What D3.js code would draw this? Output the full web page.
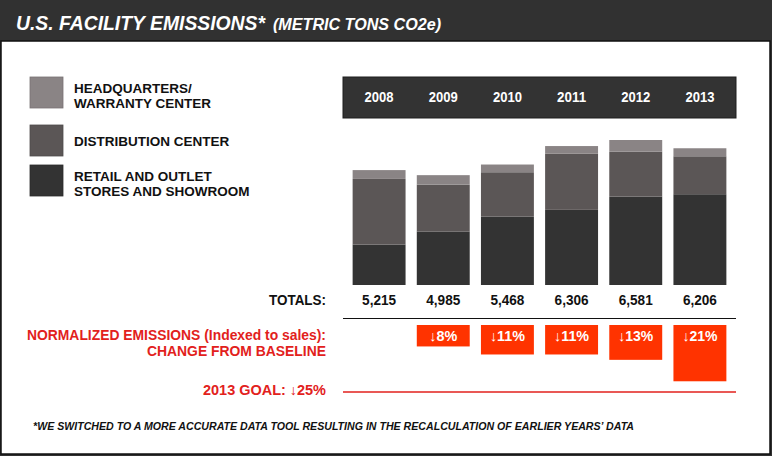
<!DOCTYPE html>
<html>
<head>
<meta charset="utf-8">
<script src="https://cdn.jsdelivr.net/npm/d3@7"></script>
<style>
  body { margin: 0; background: #fff; }
  svg { display: block; }
</style>
</head>
<body>
<svg id="chart"></svg>
<script>
// values (metric tons CO2e)
const years = ["2008", "2009", "2010", "2011", "2012", "2013"]
const retail = [1835, 2430, 3100, 3410, 4010, 4120]
const distribution = [2980, 2125, 2018, 2546, 2040, 1722]
const headquarters = [400, 430, 350, 350, 531, 364]
const totals = [5215, 4985, 5468, 6306, 6581, 6206]
// normalized emissions, % down from baseline (2008 has none)
const normalizedChange = [null, 8, 11, 11, 13, 21]
const goalChange = 25

const seriesKeys = ["retail", "distribution", "headquarters"]
const legendLabels = {
    headquarters: ["HEADQUARTERS/", "WARRANTY CENTER"],
    distribution: ["DISTRIBUTION CENTER"],
    retail: ["RETAIL AND OUTLET", "STORES AND SHOWROOM"]
}

const W = 772, H = 456
const colors = { retail: "#333333", distribution: "#5b5656", headquarters: "#8a8485" }
const red = "#e2211c"
const boxRed = "#ff3300"
const sans = "'Liberation Sans', Arial, sans-serif"

const svg = d3.select("#chart").attr("width", W).attr("height", H)

// background: dark title band + bordered white panel
svg.append("rect").attr("width", W).attr("height", H).attr("fill", "#313131")
svg.append("rect")
    .attr("x", 1).attr("y", 41).attr("width", W - 3).attr("height", H - 43)
    .attr("fill", "#fff").attr("stroke", "#111").attr("stroke-width", 1.5)

// title
svg.append("text")
    .attr("x", 16).attr("y", 30)
    .attr("textLength", 249).attr("lengthAdjust", "spacingAndGlyphs")
    .style("font-family", sans).style("font-weight", "bold").style("font-style", "italic")
    .style("font-size", "19.5px").attr("fill", "#fff")
    .text("U.S. FACILITY EMISSIONS*")
svg.append("text")
    .attr("x", 273).attr("y", 30)
    .attr("textLength", 168).attr("lengthAdjust", "spacingAndGlyphs")
    .style("font-family", sans).style("font-weight", "bold").style("font-style", "italic")
    .style("font-size", "16px").attr("fill", "#fff")
    .text("(METRIC TONS CO2e)")

// legend
const legendRows = [
    { key: "headquarters", y: 77 },
    { key: "distribution", y: 125 },
    { key: "retail", y: 165 }
]
const legend = svg.append("g")
legendRows.forEach(row => {
    legend.append("rect")
        .attr("x", 30).attr("y", row.y).attr("width", 33).attr("height", 31)
        .attr("fill", colors[row.key]).attr("stroke", d3.color(colors[row.key]).darker(0.4)).attr("stroke-width", 0.8)
    const lines = legendLabels[row.key]
    const firstBase = lines.length === 1 ? row.y + 21 : row.y + 16
    lines.forEach((line, i) => {
        legend.append("text")
            .attr("x", 74).attr("y", firstBase + i * 15)
            .style("font-family", sans).style("font-weight", "bold").style("font-size", "13.5px")
            .attr("fill", "#111")
            .text(line)
    })
})

// scales
const x = d3.scaleBand()
    .domain(years)
    .range([343, 736])
    .paddingInner(0.175)
    .paddingOuter(0.15)

const y = d3.scaleLinear()
    .domain([0, 6581])
    .range([285, 140])

const yChange = d3.scaleLinear()
    .domain([0, goalChange])
    .range([325, 392])

// year header band
svg.append("rect")
    .attr("x", x.range()[0]).attr("y", 77).attr("width", x.range()[1] - x.range()[0]).attr("height", 41)
    .attr("fill", "#333").attr("stroke", "#1e1e1e").attr("stroke-width", 1)
svg.append("g").selectAll("text")
    .data(years)
    .enter()
    .append("text")
    .attr("x", d => x(d) + x.bandwidth() / 2)
    .attr("y", 102)
    .attr("text-anchor", "middle")
    .attr("textLength", 29).attr("lengthAdjust", "spacingAndGlyphs")
    .style("font-family", sans).style("font-weight", "bold").style("font-size", "15px")
    .attr("fill", "#fff")
    .text(d => d)

// stacked bars
const table = years.map((year, i) => ({
    year: year,
    retail: retail[i],
    distribution: distribution[i],
    headquarters: headquarters[i]
}))
const stacked = d3.stack().keys(seriesKeys)(table)

svg.append("g").selectAll("g")
    .data(stacked)
    .enter()
    .append("g")
    .attr("fill", d => colors[d.key])
    .selectAll("rect")
    .data(d => d)
    .enter()
    .append("rect")
    .attr("x", d => x(d.data.year))
    .attr("y", d => y(d[1]))
    .attr("width", x.bandwidth())
    .attr("height", d => y(d[0]) - y(d[1]))

// totals row
svg.append("text")
    .attr("x", 326).attr("y", 305)
    .attr("text-anchor", "end")
    .attr("textLength", 57).attr("lengthAdjust", "spacingAndGlyphs")
    .style("font-family", sans).style("font-weight", "bold").style("font-size", "14.5px")
    .attr("fill", "#111")
    .text("TOTALS:")
svg.append("g").selectAll("text")
    .data(totals)
    .enter()
    .append("text")
    .attr("x", (d, i) => x(years[i]) + x.bandwidth() / 2)
    .attr("y", 305)
    .attr("text-anchor", "middle")
    .attr("textLength", 34).attr("lengthAdjust", "spacingAndGlyphs")
    .style("font-family", sans).style("font-size", "15px").style("font-weight", "600")
    .attr("fill", "#111")
    .text(d => d3.format(",")(d))

// separator line
svg.append("line")
    .attr("x1", x.range()[0]).attr("x2", x.range()[1])
    .attr("y1", 318.5).attr("y2", 318.5)
    .attr("stroke", "#111").attr("stroke-width", 1.2)

// normalized emissions labels
const redLabel = (txt, yy, len) => svg.append("text")
    .attr("x", 326).attr("y", yy)
    .attr("text-anchor", "end")
    .attr("textLength", len).attr("lengthAdjust", "spacingAndGlyphs")
    .style("font-family", sans).style("font-weight", "bold").style("font-size", "14px")
    .attr("fill", red)
    .text(txt)
redLabel("NORMALIZED EMISSIONS (Indexed to sales):", 340, 299)
redLabel("CHANGE FROM BASELINE", 356, 179)
redLabel("2013 GOAL: \u2193" + goalChange + "%", 395, 123)

// change boxes
const changeData = normalizedChange
    .map((v, i) => ({ year: years[i], value: v }))
    .filter(d => d.value !== null)
const boxes = svg.append("g")
boxes.selectAll("rect")
    .data(changeData)
    .enter()
    .append("rect")
    .attr("x", d => x(d.year))
    .attr("y", yChange(0))
    .attr("width", x.bandwidth())
    .attr("height", d => yChange(d.value) - yChange(0))
    .attr("fill", boxRed)
boxes.selectAll("text")
    .data(changeData)
    .enter()
    .append("text")
    .attr("x", d => x(d.year) + x.bandwidth() / 2)
    .attr("y", 341)
    .attr("text-anchor", "middle")
    .attr("textLength", d => d.value < 10 ? 28 : 35).attr("lengthAdjust", "spacingAndGlyphs")
    .style("font-family", sans).style("font-weight", "bold").style("font-size", "14.5px")
    .attr("fill", "#fff")
    .text(d => "\u2193" + d.value + "%")

// goal line
svg.append("line")
    .attr("x1", x.range()[0]).attr("x2", x.range()[1])
    .attr("y1", yChange(goalChange)).attr("y2", yChange(goalChange))
    .attr("stroke", red).attr("stroke-width", 1.3)

// footnote
svg.append("text")
    .attr("x", 33).attr("y", 430)
    .attr("textLength", 601).attr("lengthAdjust", "spacingAndGlyphs")
    .style("font-family", sans).style("font-weight", "bold").style("font-style", "italic")
    .style("font-size", "11.5px")
    .attr("fill", "#111")
    .text("*WE SWITCHED TO A MORE ACCURATE DATA TOOL RESULTING IN THE RECALCULATION OF EARLIER YEARS\u2019 DATA")
</script>
</body>
</html>
